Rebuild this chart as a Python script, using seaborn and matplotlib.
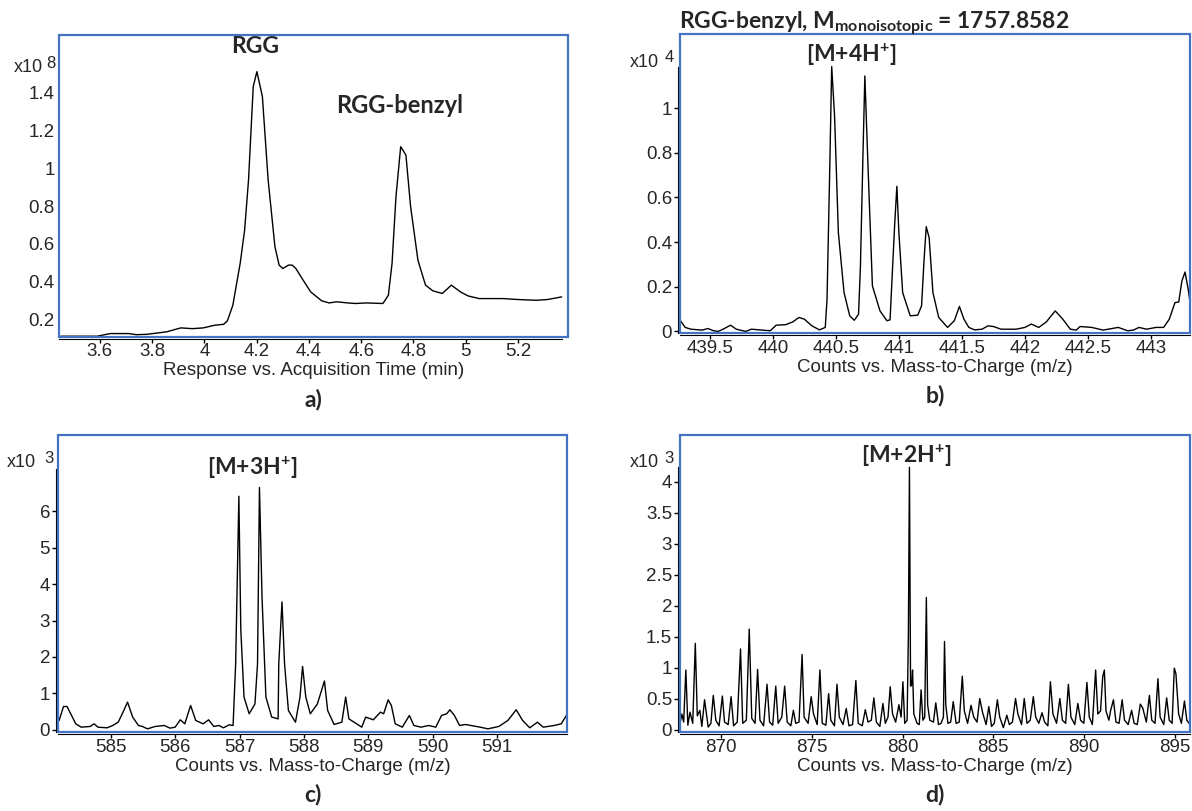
import matplotlib
matplotlib.use('Agg')
import matplotlib.pyplot as plt
import seaborn as sns
import pandas as pd
from matplotlib.patches import Rectangle
from matplotlib.ticker import FuncFormatter

sns.set_style('white')
plt.rcParams['font.family'] = ['Liberation Sans', 'DejaVu Sans']
plt.rcParams['mathtext.fontset'] = 'custom'
plt.rcParams['mathtext.rm'] = 'Lato:bold'
plt.rcParams['mathtext.it'] = 'Lato:bold'
plt.rcParams['mathtext.bf'] = 'Lato:bold'

# %% data
# a) chromatogram, response x10^8
time_min = [3.451, 3.59, 3.64, 3.71, 3.74, 3.78, 3.855, 3.91, 3.954, 3.996, 4.039, 4.074,
            4.088, 4.109, 4.137, 4.154, 4.169, 4.187, 4.201, 4.222, 4.244, 4.27, 4.286,
            4.30, 4.322, 4.336, 4.35, 4.378, 4.407, 4.449, 4.477, 4.506, 4.548, 4.577,
            4.619, 4.683, 4.704, 4.718, 4.733, 4.751, 4.771, 4.789, 4.817, 4.846, 4.874,
            4.91, 4.945, 4.98, 5.009, 5.051, 5.143, 5.2, 5.27, 5.313, 5.367]
response = [0.112, 0.112, 0.126, 0.126, 0.12, 0.122, 0.135, 0.156, 0.152, 0.156, 0.17, 0.175,
            0.193, 0.276, 0.497, 0.673, 0.938, 1.432, 1.511, 1.379, 0.938, 0.585, 0.488,
            0.47, 0.488, 0.488, 0.47, 0.408, 0.346, 0.299, 0.288, 0.294, 0.288, 0.285,
            0.288, 0.285, 0.329, 0.497, 0.85, 1.114, 1.07, 0.797, 0.514, 0.382, 0.352,
            0.338, 0.382, 0.346, 0.325, 0.311, 0.311, 0.306, 0.302, 0.306, 0.32]

# b) [M+4H+] spectrum, counts x10^4
mz_b = [439.267, 439.305, 439.35, 439.44, 439.485, 439.53, 439.566, 439.605, 439.665, 439.71,
        439.785, 439.83, 439.98, 440.026, 440.1, 440.16, 440.207, 440.25, 440.31, 440.37,
        440.416, 440.43, 440.452, 440.467, 440.49, 440.52, 440.565, 440.61, 440.646, 440.68,
        440.695, 440.716, 440.73, 440.755, 440.79, 440.85, 440.905, 440.93, 440.948, 440.966,
        440.984, 441.0, 441.03, 441.09, 441.15, 441.18, 441.2, 441.217, 441.24, 441.27,
        441.316, 441.386, 441.44, 441.48, 441.516, 441.555, 441.6, 441.66, 441.706, 441.75,
        441.81, 441.93, 442.0, 442.05, 442.11, 442.17, 442.24, 442.3, 442.36, 442.407,
        442.437, 442.53, 442.62, 442.74, 442.815, 442.86, 442.905, 442.965, 443.04, 443.1,
        443.145, 443.19, 443.22, 443.245, 443.27, 443.295, 443.31]
counts_b = [0.048, 0.018, 0.010, 0.006, 0.013, 0.003, 0.0, 0.010, 0.028, 0.010,
            0.0, 0.010, 0.003, 0.028, 0.030, 0.043, 0.0625, 0.055, 0.025, 0.007,
            0.018, 0.144, 0.74, 1.186, 0.963, 0.442, 0.174, 0.07, 0.05, 0.077,
            0.293, 0.814, 1.144, 0.74, 0.204, 0.092, 0.048, 0.052, 0.263, 0.472,
            0.65, 0.442, 0.174, 0.07, 0.073, 0.115, 0.323, 0.469, 0.42, 0.174,
            0.0625, 0.018, 0.048, 0.112, 0.055, 0.018, 0.007, 0.010, 0.025, 0.022,
            0.010, 0.010, 0.018, 0.033, 0.018, 0.043, 0.092, 0.055, 0.010, 0.006,
            0.022, 0.018, 0.006, 0.018, 0.003, 0.006, 0.018, 0.010, 0.018, 0.018,
            0.055, 0.129, 0.132, 0.226, 0.266, 0.189, 0.129]

# c) [M+3H+] spectrum, counts x10^3
mz_c = [584.196, 584.265, 584.32, 584.455, 584.54, 584.68, 584.74, 584.8, 584.94, 585.03,
        585.115, 585.19, 585.26, 585.34, 585.43, 585.49, 585.57, 585.69, 585.83, 585.92,
        586.0, 586.08, 586.15, 586.24, 586.32, 586.435, 586.52, 586.6, 586.68, 586.75,
        586.84, 586.9, 586.94, 586.99, 587.02, 587.07, 587.15, 587.24, 587.28, 587.31,
        587.35, 587.41, 587.5, 587.6, 587.61, 587.66, 587.7, 587.76, 587.87, 587.94,
        587.98, 588.03, 588.1, 588.21, 588.32, 588.37, 588.47, 588.59, 588.65, 588.7,
        588.82, 588.9, 588.96, 589.08, 589.19, 589.24, 589.31, 589.36, 589.42, 589.53,
        589.64, 589.71, 589.82, 589.94, 590.05, 590.14, 590.22, 590.27, 590.34, 590.42,
        590.51, 590.74, 590.86, 591.03, 591.17, 591.3, 591.4, 591.51, 591.63, 591.72,
        591.89, 592.0, 592.08]
counts_c = [0.256, 0.64, 0.64, 0.165, 0.073, 0.092, 0.165, 0.073, 0.055, 0.119,
            0.21, 0.485, 0.76, 0.348, 0.119, 0.092, 0.027, 0.092, 0.119, 0.046,
            0.073, 0.275, 0.165, 0.668, 0.256, 0.165, 0.275, 0.092, 0.119, 0.055,
            0.137, 0.119, 1.81, 6.41, 2.75, 0.9, 0.44, 0.71, 1.81, 6.65,
            3.64, 0.9, 0.35, 0.3, 1.81, 3.51, 1.81, 0.53, 0.21, 0.9,
            1.74, 0.9, 0.44, 0.71, 1.34, 0.53, 0.147, 0.21, 0.9, 0.3,
            0.165, 0.073, 0.348, 0.275, 0.485, 0.44, 0.824, 0.668, 0.165, 0.073,
            0.394, 0.119, 0.073, 0.119, 0.073, 0.394, 0.44, 0.55, 0.394, 0.119,
            0.147, 0.073, 0.027, 0.092, 0.256, 0.55, 0.256, 0.055, 0.21, 0.073,
            0.119, 0.165, 0.394]

# d) [M+2H+] spectrum, counts x10^3
mz_d = [867.75, 867.85, 867.95, 868.07, 868.18, 868.3, 868.45, 868.59, 868.7, 868.84, 868.95,
        869.1, 869.3, 869.45, 869.58, 869.72, 869.9, 870.08, 870.2, 870.4, 870.56, 870.7, 870.9,
        871.08, 871.2, 871.4, 871.56, 871.7, 871.88, 872.02, 872.15, 872.35, 872.54, 872.68, 872.85,
        873.02, 873.15, 873.35, 873.51, 873.65, 873.85, 873.99, 874.12, 874.3, 874.47, 874.58, 874.8,
        874.97, 875.1, 875.3, 875.45, 875.58, 875.78, 875.93, 876.05, 876.25, 876.39, 876.52, 876.72,
        876.9, 877.05, 877.25, 877.43, 877.56, 877.78, 877.95, 878.1, 878.28, 878.42, 878.56, 878.75,
        878.92, 879.05, 879.2, 879.32, 879.45, 879.62, 879.8, 879.92, 880.02, 880.12, 880.25, 880.32,
        880.38, 880.44, 880.5, 880.55, 880.62, 880.8, 880.92, 881.02, 881.12, 881.22, 881.31, 881.38,
        881.5, 881.7, 881.83, 881.98, 882.12, 882.25, 882.31, 882.38, 882.5, 882.65, 882.79, 882.95,
        883.12, 883.29, 883.4, 883.58, 883.77, 883.92, 884.1, 884.25, 884.4, 884.6, 884.75, 884.9, 885.05,
        885.22, 885.35, 885.55, 885.74, 885.88, 886.05, 886.22, 886.35, 886.55, 886.7, 886.85, 887.03,
        887.2, 887.33, 887.5, 887.68, 887.82, 888.0, 888.14, 888.28, 888.48, 888.66, 888.8, 888.98,
        889.13, 889.27, 889.48, 889.65, 889.8, 889.98, 890.15, 890.28, 890.45, 890.63, 890.75, 890.9,
        891.02, 891.11, 891.2, 891.36, 891.45, 891.61, 891.75, 891.92, 892.09, 892.22, 892.42, 892.61,
        892.75, 892.92, 893.09, 893.22, 893.42, 893.59, 893.72, 893.9, 894.06, 894.18, 894.38, 894.54,
        894.68, 894.84, 894.96, 895.05, 895.2, 895.35, 895.52, 895.65, 895.83]
counts_d = [0.10, 0.25, 0.12, 0.96, 0.07, 0.28, 0.10, 1.39, 0.22, 0.31, 0.05,
            0.48, 0.04, 0.10, 0.55, 0.15, 0.06, 0.54, 0.12, 0.08, 0.53, 0.06, 0.12,
            1.30, 0.10, 0.15, 1.62, 0.18, 0.10, 0.97, 0.15, 0.06, 0.73, 0.12, 0.07,
            0.70, 0.10, 0.20, 0.70, 0.12, 0.06, 0.31, 0.10, 0.12, 1.21, 0.20, 0.10,
            0.53, 0.25, 0.08, 0.96, 0.10, 0.07, 0.58, 0.15, 0.06, 0.73, 0.20, 0.08,
            0.34, 0.06, 0.08, 0.79, 0.10, 0.06, 0.32, 0.12, 0.15, 0.51, 0.12, 0.05,
            0.42, 0.10, 0.20, 0.69, 0.25, 0.12, 0.40, 0.20, 0.77, 0.10, 0.15, 1.50,
            4.23, 0.70, 0.72, 0.96, 0.25, 0.10, 0.08, 0.64, 0.15, 0.20, 2.13, 0.40,
            0.15, 0.12, 0.43, 0.08, 0.10, 0.20, 1.42, 0.40, 0.10, 0.12, 0.45, 0.10,
            0.12, 0.86, 0.30, 0.10, 0.39, 0.20, 0.12, 0.50, 0.28, 0.08, 0.37, 0.05, 0.10,
            0.48, 0.20, 0.03, 0.23, 0.08, 0.12, 0.50, 0.25, 0.08, 0.50, 0.10, 0.15,
            0.53, 0.20, 0.10, 0.27, 0.12, 0.06, 0.77, 0.25, 0.10, 0.50, 0.15, 0.10,
            0.73, 0.20, 0.08, 0.42, 0.15, 0.10, 0.76, 0.20, 0.08, 0.96, 0.25, 0.30,
            0.85, 0.96, 0.30, 0.15, 0.30, 0.48, 0.12, 0.10, 0.48, 0.15, 0.08, 0.31,
            0.10, 0.08, 0.41, 0.35, 0.12, 0.55, 0.15, 0.10, 0.82, 0.20, 0.08, 0.51,
            0.15, 0.10, 0.99, 0.90, 0.25, 0.10, 0.46, 0.15, 0.08]

xticks_a = [3.6, 3.8, 4.0, 4.2, 4.4, 4.6, 4.8, 5.0, 5.2]
yticks_a = [0.2, 0.4, 0.6, 0.8, 1.0, 1.2, 1.4]
xticks_b = [439.5, 440, 440.5, 441, 441.5, 442, 442.5, 443]
yticks_b = [0, 0.2, 0.4, 0.6, 0.8, 1.0]
xticks_c = [585, 586, 587, 588, 589, 590, 591]
yticks_c = [0, 1, 2, 3, 4, 5, 6]
xticks_d = [870, 875, 880, 885, 890, 895]
yticks_d = [0, 0.5, 1, 1.5, 2, 2.5, 3, 3.5, 4]

# %% figure
BLUE = '#4472C4'
BOLD = dict(family='Lato', fontweight='bold')
fig = plt.figure(figsize=(11.92, 8.11), dpi=100)

panels = [
    # x, y, rect, xlim, ylim, xticks, yticks, spine top, exponent, xlabel, letter
    (time_min, response, [0.0495, 0.5845, 0.427, 0.3724], (3.444, 5.391), (0.108, 1.705),
     xticks_a, yticks_a, None, '8', 'Response vs. Acquisition Time (min)', 'a)',
     (-0.031, 0.891), (-0.0255, 0.907)),
    (mz_b, counts_b, [0.5705, 0.5894, 0.4279, 0.3687], (439.264, 443.31), (-0.007, 1.332),
     xticks_b, yticks_b, 1.186, '4', 'Counts vs. Mass-to-Charge (m/z)', 'b)',
     (-0.041, 0.903), (-0.03, 0.92)),
    (mz_c, counts_c, [0.0487, 0.0974, 0.427, 0.3662], (584.18, 592.09), (-0.06, 8.09),
     xticks_c, yticks_c, 7.17, '3', 'Counts vs. Mass-to-Charge (m/z)', 'c)',
     (-0.043, 0.906), (-0.027, 0.922)),
    (mz_d, counts_d, [0.5705, 0.0974, 0.4279, 0.3662], (867.75, 895.83), (-0.04, 4.75),
     xticks_d, yticks_d, 4.23, '3', 'Counts vs. Mass-to-Charge (m/z)', 'd)',
     (-0.041, 0.906), (-0.03, 0.922)),
]

axes = []
for (xs, ys, rect, xlim, ylim, xt, yt, ytop, expo, xlab, letter, xpos, epos) in panels:
    ax = fig.add_axes(rect)
    df = pd.DataFrame({'x': xs, 'y': ys})
    sns.lineplot(data=df, x='x', y='y', ax=ax, color='black', linewidth=1,
                 estimator=None, sort=False)
    ax.set_xlim(xlim)
    ax.set_ylim(ylim)
    ax.set_xticks(xt)
    ax.set_yticks(yt)
    fmt = FuncFormatter(lambda v, p: f'{v:g}')
    ax.xaxis.set_major_formatter(fmt)
    ax.yaxis.set_major_formatter(fmt)
    ax.set_xlabel('')
    ax.set_ylabel('')
    ax.tick_params(labelsize=13.5, length=3, width=1, pad=1.5, color='black',
                   bottom=True, left=True, direction='out')
    ax.tick_params(axis='x', pad=0.5)
    ax.set_facecolor('white')

    # blue frame drawn around the whole plot area
    ax.add_patch(Rectangle((0, 0), 1, 1, transform=ax.transAxes, fill=False,
                           edgecolor=BLUE, linewidth=1.6, clip_on=False, zorder=5))
    ax.spines['top'].set_visible(False)
    ax.spines['right'].set_visible(False)
    ax.spines['bottom'].set_color('black')
    ax.spines['bottom'].set_position(('outward', 1.2))
    if ytop is None:
        ax.spines['left'].set_visible(False)
        ax.tick_params(axis='y', length=0, pad=3)
        ax.spines['bottom'].set_bounds(xlim[0], xs[-1])
    else:
        ax.spines['left'].set_color('black')
        ax.spines['left'].set_position(('outward', 1.2))
        ax.spines['left'].set_bounds(ylim[0], ytop)

    # "x10 n" multiplier
    ax.text(xpos[0], xpos[1], 'x10', transform=ax.transAxes, ha='right', va='center',
            fontsize=13)
    ax.text(epos[0], epos[1], expo, transform=ax.transAxes, ha='left', va='center',
            fontsize=12)

    ax.annotate(xlab, xy=(0.5, 0), xycoords='axes fraction', xytext=(0, -24.5),
                textcoords='offset points', ha='center', va='center', fontsize=13.5)
    ax.annotate(letter, xy=(0.5, 0), xycoords='axes fraction', xytext=(0, -45),
                textcoords='offset points', ha='center', va='center', fontsize=16.5, **BOLD)
    axes.append(ax)

ax_a, ax_b, ax_c, ax_d = axes
ax_a.text(4.194, 1.611, 'RGG', ha='center', va='baseline', fontsize=16.5, **BOLD)
ax_a.text(4.747, 1.294, 'RGG-benzyl', ha='center', va='baseline', fontsize=17, **BOLD)
ax_b.text(440.62, 1.208, r'[M+4H$^{+}$]', ha='center', va='baseline', fontsize=16.5, **BOLD)
ax_c.text(587.19, 6.99, r'[M+3H$^{+}$]', ha='center', va='baseline', fontsize=16.5, **BOLD)
ax_d.text(880.22, 4.30, r'[M+2H$^{+}$]', ha='center', va='baseline', fontsize=16.5, **BOLD)

fig.text(0.5696, 1 - 28 / 811, r'RGG-benzyl, M$_{\mathrm{monoisotopic}}$ = 1757.8582',
         ha='left', va='baseline', fontsize=16.5, **BOLD)

plt.savefig('out.png', dpi=100)
